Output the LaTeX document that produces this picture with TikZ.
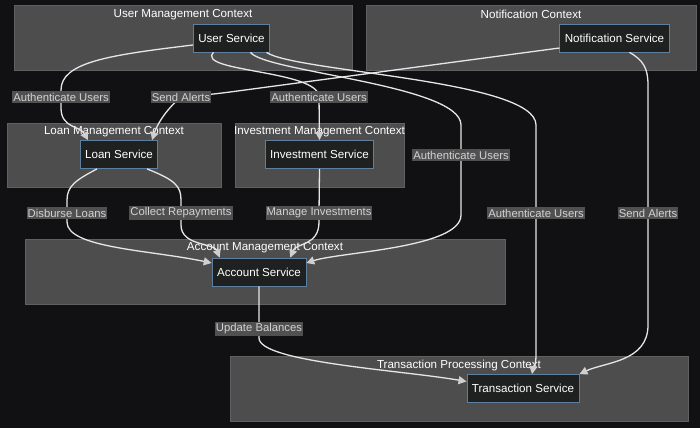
\documentclass[tikz,border=0pt]{standalone}
\usepackage{fontspec}
\setmainfont{Liberation Sans}
\usetikzlibrary{arrows.meta,positioning,calc}
\definecolor{bgdark}{HTML}{111113}
\definecolor{ctxfill}{HTML}{4C4D4C}
\definecolor{ctxline}{HTML}{606060}
\definecolor{svcfill}{HTML}{1F2020}
\definecolor{svcline}{HTML}{5F7F9E}
\definecolor{lblfill}{HTML}{505050}
\definecolor{lbltext}{HTML}{D2D2D2}
\definecolor{edgeline}{HTML}{E6E6E6}
\definecolor{tipgray}{HTML}{CFCFCF}

\begin{document}
\begin{tikzpicture}[x=1pt, y=-1pt, every node/.style={font=\fontsize{11.6}{13}\selectfont},
  ctx/.style={draw=ctxline, fill=ctxfill, line width=0.8pt, inner sep=0pt},
  ctxtitle/.style={text=white, inner sep=0pt},
  svc/.style={draw=svcline, fill=svcfill, text=white, line width=0.8pt, minimum height=28pt, inner xsep=5pt},
  lbl/.style={fill=lblfill, text=lbltext, inner xsep=1pt, inner ysep=1.5pt, font=\fontsize{11.3}{12}\selectfont},
  flow/.style={draw=edgeline, line width=1.3pt, -{Triangle[length=8pt,width=8pt,color=tipgray]}}]
  \fill[bgdark] (0,0) rectangle (700,428);
  \useasboundingbox (0,0) rectangle (700,428);

  % bounded contexts
  \node[ctx, minimum width=338pt, minimum height=65pt] (userCtx) at (183,37.5) {};
  \node[ctx, minimum width=330pt, minimum height=65pt] (notifCtx) at (531,37.5) {};
  \node[ctx, minimum width=214pt, minimum height=64pt] (loanCtx) at (114,155) {};
  \node[ctx, minimum width=169pt, minimum height=64pt] (invCtx) at (319.5,155) {};
  \node[ctx, minimum width=480pt, minimum height=65pt] (accCtx) at (265,271.5) {};
  \node[ctx, minimum width=458pt, minimum height=65pt] (transCtx) at (459,388.5) {};

  \node[ctxtitle] (userCtxT) at ([yshift=-10pt]userCtx.north) {User Management Context};
  \node[ctxtitle] (notifCtxT) at ([yshift=-10pt]notifCtx.north) {Notification Context};
  \node[ctxtitle] (loanCtxT) at ([yshift=-9pt]loanCtx.north) {Loan Management Context};
  \node[ctxtitle] (invCtxT) at ([yshift=-9pt]invCtx.north) {Investment Management Context};
  \node[ctxtitle] (accCtxT) at ([yshift=-9pt]accCtx.north) {Account Management Context};
  \node[ctxtitle] (transCtxT) at ([yshift=-10pt]transCtx.north) {Transaction Processing Context};

  % services
  \node[svc] (user) at (231.5,38) {User Service};
  \node[svc] (notif) at (614.5,38) {Notification Service};
  \node[svc] (loan) at (119,154.5) {Loan Service};
  \node[svc] (inv) at (319.5,154.5) {Investment Service};
  \node[svc] (acc) at (259,272) {Account Service};
  \node[svc] (trans) at (523,388.5) {Transaction Service};

  % flows
  \draw[flow] ([yshift=-7pt]user.west) .. controls (110,55) and (61,62) .. (61,90)
    -- (61,97) node[lbl] {Authenticate Users}
    -- (61,108) .. controls (61,128) and (80,126) .. ([xshift=-31pt]loan.north);
  \draw[flow] ([yshift=-10pt]notif.west) -- (230,92) .. controls (200,96) and (185,96) .. (181,97) node[lbl] {Send Alerts}
    .. controls (168,108) and (158,122) .. ([xshift=33pt]loan.north);
  \draw[flow] ([xshift=-18pt]user.south) .. controls (195,72) and (319,70) .. (319,97) node[lbl] {Authenticate Users}
    -- (inv.north);
  \draw[flow] ([xshift=19pt]user.south) .. controls (265,72) and (461,85) .. (461,125)
    -- (461,155) node[lbl] {Authenticate Users}
    -- (461,215) .. controls (461,248) and (340,252) .. ([yshift=9pt]acc.east);
  \draw[flow] ([xshift=35pt]user.south) .. controls (295,72) and (536,80) .. (536,125)
    -- (536,213) node[lbl] {Authenticate Users}
    -- (536,355) .. controls (536,366) and (533,368) .. ([xshift=9pt]trans.north);
  \draw[flow] ([xshift=15pt]notif.south) .. controls (643,60) and (648,68) .. (648,85)
    -- (648,213) node[lbl] {Send Alerts}
    -- (648,325) .. controls (648,362) and (605,362) .. (trans.north east);
  \draw[flow] ([xshift=-22pt]loan.south) .. controls (76,180) and (67,186) .. (67,200)
    -- (67,213) node[lbl] {Disburse Loans}
    -- (67,222) .. controls (67,248) and (150,250) .. ([yshift=9pt]acc.west);
  \draw[flow] ([xshift=28pt]loan.south) .. controls (175,180) and (181,186) .. (181,200)
    -- (181,213) node[lbl] {Collect Repayments}
    -- (181,225) .. controls (181,246) and (214,243) .. ([xshift=8pt]acc.north west);
  \draw[flow] (inv.south) -- (319,213) node[lbl] {Manage Investments}
    -- (319,222) .. controls (319,246) and (296,243) .. ([xshift=-16pt]acc.north east);
  \draw[flow] (acc.south) -- (259,329) node[lbl] {Update Balances}
    -- (259,338) .. controls (259,362) and (400,370) .. ([yshift=7pt]trans.west);
\end{tikzpicture}
\end{document}
